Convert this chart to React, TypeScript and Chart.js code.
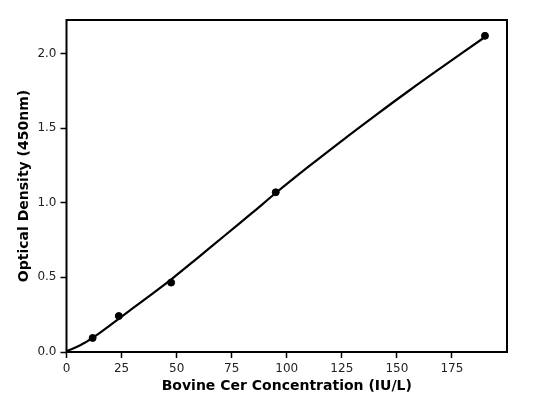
import React, { useEffect, useRef } from "react";
import { Chart, registerables } from "chart.js";

Chart.register(...registerables);

const xTicks = [0, 25, 50, 75, 100, 125, 150, 175];
const yTicks = [0, 0.5, 1.0, 1.5, 2.0];

const standardConc = [11.875, 23.75, 47.5, 95, 190];
const standardOD = [0.094, 0.241, 0.465, 1.07, 2.118];

const curveConc = [0, 6, 12, 24, 36, 48, 60, 72, 84, 95, 110, 125, 140, 155, 170, 190];
const curveOD = [0.006, 0.043, 0.096, 0.226, 0.358, 0.492, 0.636, 0.782, 0.928, 1.065, 1.243, 1.415, 1.582, 1.745, 1.903, 2.11];

const xTitle = "Bovine Cer Concentration (IU/L)";
const yTitle = "Optical Density (450nm)";

const FONT = "'DejaVu Sans', sans-serif";

const framePlugin = {
  id: "frame",
  afterDatasetsDraw(chart: any) {
    const { ctx, chartArea } = chart;
    ctx.save();
    ctx.strokeStyle = "#000";
    ctx.lineWidth = 2;
    ctx.strokeRect(chartArea.left, chartArea.top, chartArea.right - chartArea.left, chartArea.bottom - chartArea.top);
    ctx.restore();
  },
};

export default function App() {
  const ref = useRef<HTMLCanvasElement | null>(null);

  useEffect(() => {
    if (!ref.current) return;
    const chart = new Chart(ref.current, {
      type: "scatter",
      data: {
        datasets: [
          {
            type: "line",
            data: curveConc.map((x, i) => ({ x, y: curveOD[i] })),
            borderColor: "#000",
            borderWidth: 2.2,
            pointRadius: 0,
            fill: false,
            tension: 0.4,
            order: 2,
          } as any,
          {
            type: "scatter",
            data: standardConc.map((x, i) => ({ x, y: standardOD[i] })),
            backgroundColor: "#000",
            borderColor: "#000",
            pointRadius: 3.5,
            order: 1,
          },
        ],
      },
      options: {
        animation: false,
        responsive: true,
        maintainAspectRatio: false,
        layout: { padding: { top: 20, right: 26, left: 0, bottom: 0 } },
        plugins: { legend: { display: false }, tooltip: { enabled: false } },
        scales: {
          x: {
            type: "linear",
            min: 0,
            max: 200,
            afterBuildTicks: (s: any) => {
              s.ticks = xTicks.map((v) => ({ value: v }));
            },
            afterFit: (s: any) => {
              s.height = 48;
            },
            border: { display: false },
            grid: { drawOnChartArea: false, drawTicks: true, tickLength: 6, tickWidth: 1.5, tickColor: "#000" },
            ticks: {
              color: "#222",
              font: { family: FONT, size: 12 },
              padding: 4,
              maxRotation: 0,
              callback: (v: any) => String(v),
            },
            title: {
              display: true,
              text: xTitle,
              color: "#000",
              font: { family: FONT, size: 14, weight: "bold" },
              padding: { top: 0, bottom: 5 },
            },
          },
          y: {
            type: "linear",
            min: 0,
            max: 2.224,
            afterBuildTicks: (s: any) => {
              s.ticks = yTicks.map((v) => ({ value: v }));
            },
            afterFit: (s: any) => {
              s.width = 66.5;
            },
            border: { display: false },
            grid: { drawOnChartArea: false, drawTicks: true, tickLength: 6, tickWidth: 1.5, tickColor: "#000" },
            ticks: {
              color: "#222",
              font: { family: FONT, size: 12 },
              padding: 4,
              callback: (v: any) => Number(v).toFixed(1),
            },
            title: {
              display: true,
              text: yTitle,
              color: "#000",
              font: { family: FONT, size: 14, weight: "bold" },
              padding: { top: 16, bottom: 0 },
            },
          },
        },
      },
      plugins: [framePlugin],
    });
    return () => chart.destroy();
  }, []);

  return (
    <div style={{ position: "fixed", left: 0, top: 0, width: 533, height: 400, background: "#fff" }}>
      <canvas ref={ref} />
    </div>
  );
}
